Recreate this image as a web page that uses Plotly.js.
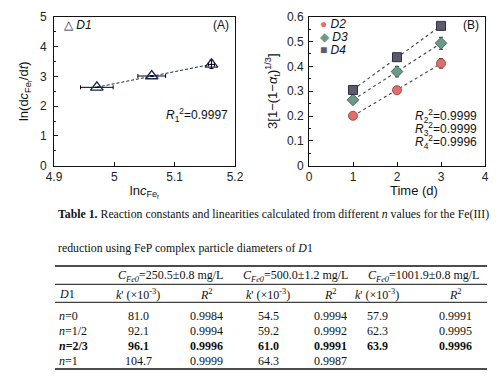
<!DOCTYPE html>
<html>
<head>
<meta charset="utf-8">
<script src="https://cdn.plot.ly/plotly-3.0.1.min.js"></script>
<style>html,body{margin:0;padding:0;background:#fff;}#chart{width:499px;height:384px;}</style>
</head>
<body>
<div id="chart"></div>
<script>
// ---------- Panel (A) data ----------
const lnC = [4.971, 5.062, 5.161];
const lnRate = [2.63, 3.01, 3.40];
const lnCErr = [0.027, 0.023, 0.005];
const lnRateErr = [0, 0, 0.14];
const fitR2A = '0.9997';

// ---------- Panel (B) data ----------
const days = [1, 2, 3];
const seriesNames = ['D2', 'D3', 'D4'];
const d2 = [0.201, 0.304, 0.412];
const d3 = [0.265, 0.379, 0.493];
const d4 = [0.305, 0.437, 0.563];
const d2Err = [0.005, 0.010, 0.019];
const d3Err = [0.006, 0.021, 0.024];
const d4Err = [0.004, 0.006, 0.006];
const fitR2B = ['0.9999', '0.9999', '0.9996'];

// ---------- Table data ----------
const concHeaders = ['250.5±0.8', '500.0±1.2', '1001.9±0.8'];
const nLabels = ['0', '1/2', '2/3', '1'];
const kValues = [
  [81.0, 54.5, 57.9],
  [92.1, 59.2, 62.3],
  [96.1, 61.0, 63.9],
  [104.7, 64.3, null]
];
const r2Values = [
  [0.9984, 0.9994, 0.9991],
  [0.9994, 0.9992, 0.9995],
  [0.9996, 0.9991, 0.9996],
  [0.9999, 0.9987, null]
];
const boldRow = 2;

// ---------- helpers ----------
const W = 499, H = 384;
const px = x => x / W;
const py = y => 1 - y / H;
function linFit(x, y) {
  const n = x.length;
  const mx = x.reduce((a, b) => a + b, 0) / n;
  const my = y.reduce((a, b) => a + b, 0) / n;
  let sxy = 0, sxx = 0;
  for (let i = 0; i < n; i++) { sxy += (x[i] - mx) * (y[i] - my); sxx += (x[i] - mx) ** 2; }
  const b = sxy / sxx, a = my - b * mx;
  const xs = [x[0], x[n - 1]];
  return { x: xs, y: xs.map(v => a + b * v) };
}

const sans = 'Liberation Sans, Arial, sans-serif';
const serif = 'Liberation Serif, Times New Roman, serif';

const traces = [];
// Panel A
const fitA = linFit(lnC, lnRate);
traces.push({ x: fitA.x, y: fitA.y, xaxis: 'x', yaxis: 'y', mode: 'lines',
  line: { color: '#1b2450', width: 1, dash: '3px,2px' }, showlegend: false, hoverinfo: 'skip' });
traces.push({ x: lnC, y: lnRate, xaxis: 'x', yaxis: 'y', mode: 'markers', name: 'D1',
  marker: { symbol: 'triangle-up-open', size: 11, color: '#1b2450', line: { width: 1.3 } },
  error_x: { type: 'data', array: lnCErr, color: '#000', thickness: 1, width: 2 },
  error_y: { type: 'data', array: lnRateErr, color: '#000', thickness: 1, width: 2 },
  showlegend: false });

// Panel B
const bSeries = [d2, d3, d4];
const bErr = [d2Err, d3Err, d4Err];
const bStyle = [
  { symbol: 'circle', color: '#df6f6c', line: '#a84b48', size: 9 },
  { symbol: 'diamond', color: '#6b9a89', line: '#3f6d5e', size: 9 },
  { symbol: 'square', color: '#5b5b70', line: '#2f2f3e', size: 9 }
];
bSeries.forEach((s, i) => {
  const f = linFit(days, s);
  traces.push({ x: f.x, y: f.y, xaxis: 'x2', yaxis: 'y2', mode: 'lines',
    line: { color: '#444', width: 1.1, dash: 'dot' }, showlegend: false, hoverinfo: 'skip' });
});
bSeries.forEach((s, i) => {
  traces.push({ x: days, y: s, xaxis: 'x2', yaxis: 'y2', mode: 'markers', name: seriesNames[i],
    marker: { symbol: bStyle[i].symbol, size: bStyle[i].size, color: bStyle[i].color,
      line: { color: bStyle[i].line, width: 1 } },
    error_y: { type: 'data', array: bErr[i], color: '#222', thickness: 1, width: 2 },
    showlegend: false });
});

const tickFont = { family: sans, size: 12, color: '#222' };
const axisCommon = {
  showline: true, mirror: true, linecolor: '#111', linewidth: 1, ticks: 'inside', ticklen: 4,
  tickcolor: '#111', showgrid: false, zeroline: false, tickfont: tickFont
};
const yDom = [py(165.7), py(16.7)];

const annotations = [];
const ann = (x, y, text, font, xanchor) => annotations.push({ xref: 'paper', yref: 'paper', x: px(x), y: py(y),
  xanchor: xanchor || 'center', yanchor: 'middle', text: text, showarrow: false, font: font });

const chartFont = { family: sans, size: 12, color: '#111' };
// Panel A texts
ann(62, 25, '<span style="color:#1b2450">△</span> <i>D1</i>', chartFont, 'left');
ann(231, 25, '(A)', chartFont, 'right');
ann(230, 115, '<i>R</i><sub>1</sub><sup>2</sup>=' + fitR2A, chartFont, 'right');
// Panel B texts
const legendSym = ['●', '◆', '■'];
seriesNames.forEach((n, i) => {
  ann(318, 24 + 13 * i, '<span style="color:' + bStyle[i].color + '">' + legendSym[i] + '</span> <i>' + n + '</i>', chartFont, 'left');
  ann(479, 116 + 13 * i, '<i>R</i><sub>' + (i + 2) + '</sub><sup>2</sup>=' + fitR2B[i], chartFont, 'right');
});
ann(481, 25, '(B)', chartFont, 'right');
ann(414, 191, 'Time (d)', { family: sans, size: 13, color: '#111' });

// Caption
const capFont = { family: serif, size: 11.8, color: '#111' };
ann(56, 214, '<b>Table 1.</b> Reaction constants and linearities calculated from different <i>n</i> values for the Fe(III)', capFont, 'left');
ann(56, 248, 'reduction using FeP complex particle diameters of <i>D</i>1', capFont, 'left');

// Table
const tFont = { family: serif, size: 12, color: '#111' };
const groupX = [170, 295, 423];
const kX = [138, 268, 377];
const rX = [206, 330, 455];
const rowY0 = 316, rowStep = 15;
concHeaders.forEach((c, j) => {
  ann(groupX[j], 275.7, '<i>C</i><sub><i>Fe0</i></sub>=' + c + ' mg/L', tFont);
  ann(kX[j], 294, "<i>k</i>' (×10<sup>-3</sup>)", tFont);
  ann(rX[j], 294, '<i>R</i><sup>2</sup>', tFont);
});
ann(57, 294, '<i>D</i>1', tFont, 'left');
nLabels.forEach((n, i) => {
  const y = rowY0 + rowStep * i;
  const b = s => (i === boldRow ? '<b>' + s + '</b>' : s);
  ann(57, y, b('<i>n</i>=' + n), tFont, 'left');
  for (let j = 0; j < 3; j++) {
    if (kValues[i][j] !== null) ann(kX[j], y, b(kValues[i][j].toFixed(1)), tFont);
    if (r2Values[i][j] !== null) ann(rX[j], y, b(r2Values[i][j].toFixed(4)), tFont);
  }
});

const rules = [[266, 1.3], [284.3, 1], [302.3, 1], [369, 1.3]];
const shapes = rules.map(r => ({ type: 'line', xref: 'paper', yref: 'paper', x0: px(55), x1: px(487),
  y0: py(r[0]), y1: py(r[0]), line: { color: '#111', width: r[1] } }));

const layout = {
  width: W, height: H, margin: { l: 0, r: 0, t: 0, b: 0 },
  paper_bgcolor: '#fff', plot_bgcolor: '#fff', showlegend: false,
  font: { family: sans, size: 12, color: '#111' },
  xaxis: Object.assign({}, axisCommon, { domain: [px(54), px(235)], range: [4.9, 5.2], tick0: 4.9, dtick: 0.1, anchor: 'y',
    title: { text: 'ln<i>c</i><sub>Fe<sub>r</sub></sub>', font: { family: sans, size: 13, color: '#111' }, standoff: 2 } }),
  yaxis: Object.assign({}, axisCommon, { domain: yDom, range: [0, 5], dtick: 1, anchor: 'x', ticklabelstandoff: 4,
    minor: { ticks: 'inside', ticklen: 2, dtick: 0.5, tickcolor: '#111' },
    title: { text: 'ln(d<i>c</i><sub>Fe<sub>r</sub></sub>/d<i>t</i>)', font: { family: sans, size: 13, color: '#111' }, standoff: 8 } }),
  xaxis2: Object.assign({}, axisCommon, { domain: [px(309), px(485)], range: [0, 4], dtick: 1, anchor: 'y2' }),
  yaxis2: Object.assign({}, axisCommon, { domain: yDom, range: [0, 0.6], dtick: 0.1, anchor: 'x2', ticklabelstandoff: 2,
    minor: { ticks: 'inside', ticklen: 2, dtick: 0.05, tickcolor: '#111' },
    title: { text: '3[1−(1−<i>α</i><sub>t</sub>)<sup>1/3</sup>]', font: { family: sans, size: 13, color: '#111' }, standoff: 6 } }),
  annotations: annotations,
  shapes: shapes
};

Plotly.newPlot('chart', traces, layout, { displayModeBar: false });
</script>
</body>
</html>
